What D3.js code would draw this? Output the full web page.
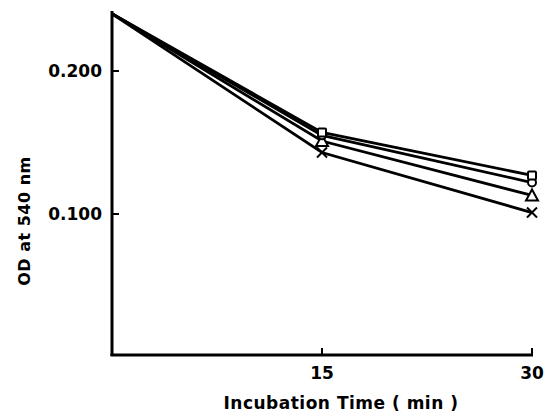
<!DOCTYPE html>
<html>
<head>
<meta charset="utf-8">
<script src="https://cdn.jsdelivr.net/npm/d3@7"></script>
<style>
  html, body { margin: 0; padding: 0; background: #fff; }
  text { font-family: "DejaVu Sans", sans-serif; font-weight: bold; fill: #000; }
</style>
</head>
<body>
<div id="chart"></div>
<script>
// incubation time (min)
const times = [0, 15, 30];
// OD at 540 nm per series
const squareVals = [0.240, 0.157, 0.127];
const circleVals = [0.240, 0.155, 0.122];
const triangleVals = [0.240, 0.151, 0.113];
const crossVals = [0.240, 0.143, 0.101];
const yTicks = [0.1, 0.2];
const xTicks = [15, 30];

const series = [
  { name: 'square', values: squareVals },
  { name: 'circle', values: circleVals },
  { name: 'triangle', values: triangleVals },
  { name: 'cross', values: crossVals }
];

const width = 545, height = 414;
const svg = d3.select('#chart').append('svg')
  .attr('width', width).attr('height', height);

const x = d3.scaleLinear().domain([0, 30]).range([112, 532]);
const y = d3.scaleLinear().domain([0, 0.2]).range([357, 71]);

// axes
svg.append('line')
  .attr('x1', x(0)).attr('x2', x(0))
  .attr('y1', y(0.242)).attr('y2', 356)
  .attr('stroke', '#000').attr('stroke-width', 3);
svg.append('line')
  .attr('x1', x(0) - 1.5).attr('x2', x(30) + 1)
  .attr('y1', 355).attr('y2', 355)
  .attr('stroke', '#000').attr('stroke-width', 3);

yTicks.forEach(t => {
  svg.append('line')
    .attr('x1', x(0)).attr('x2', x(0) + 7)
    .attr('y1', y(t)).attr('y2', y(t))
    .attr('stroke', '#000').attr('stroke-width', 2);
  svg.append('text')
    .attr('x', 102).attr('y', y(t))
    .attr('dy', '0.36em')
    .attr('text-anchor', 'end')
    .style('font-size', '17px')
    .text(d3.format('.3f')(t));
});

xTicks.forEach(t => {
  svg.append('line')
    .attr('x1', x(t)).attr('x2', x(t))
    .attr('y1', 355).attr('y2', 348)
    .attr('stroke', '#000').attr('stroke-width', 2);
  svg.append('text')
    .attr('x', x(t)).attr('y', 379)
    .attr('text-anchor', 'middle')
    .style('font-size', '17px')
    .text(t);
});

svg.append('text')
  .attr('x', 341).attr('y', 409)
  .attr('text-anchor', 'middle')
  .style('font-size', '17px')
  .style('letter-spacing', '0.5px')
  .text('Incubation Time ( min )');

svg.append('text')
  .attr('transform', 'translate(30,221) rotate(-90)')
  .attr('text-anchor', 'middle')
  .style('font-size', '16px')
  .style('letter-spacing', '0.5px')
  .text('OD at 540 nm');

// lines
const line = d3.line()
  .x((d, i) => x(times[i]))
  .y(d => y(d));

svg.selectAll('.series')
  .data(series)
  .join('path')
  .attr('class', 'series')
  .attr('d', d => line(d.values))
  .attr('fill', 'none')
  .attr('stroke', '#000')
  .attr('stroke-width', 2.8)
  .attr('stroke-linejoin', 'miter');

// markers at 15 and 30 min
function drawMarker(g, type, cx, cy) {
  if (type === 'square') {
    g.append('rect').attr('x', cx - 4).attr('y', cy - 4)
      .attr('width', 8).attr('height', 8).attr('rx', 1)
      .attr('fill', '#fff').attr('stroke', '#000').attr('stroke-width', 2);
  } else if (type === 'circle') {
    g.append('circle').attr('cx', cx).attr('cy', cy).attr('r', 4)
      .attr('fill', '#fff').attr('stroke', '#000').attr('stroke-width', 2);
  } else if (type === 'triangle') {
    g.append('path')
      .attr('d', `M${cx},${cy - 6}L${cx + 6},${cy + 5}L${cx - 6},${cy + 5}Z`)
      .attr('fill', '#fff').attr('stroke', '#000').attr('stroke-width', 2);
  } else {
    g.append('path')
      .attr('d', `M${cx - 5},${cy - 5}L${cx + 5},${cy + 5}M${cx - 5},${cy + 5}L${cx + 5},${cy - 5}`)
      .attr('stroke', '#000').attr('stroke-width', 2);
  }
}

const markers = svg.append('g');
series.slice().reverse().forEach(s => {
  s.values.forEach((v, i) => {
    if (times[i] === 0) return;
    drawMarker(markers, s.name, x(times[i]), y(v));
  });
});
</script>
</body>
</html>
